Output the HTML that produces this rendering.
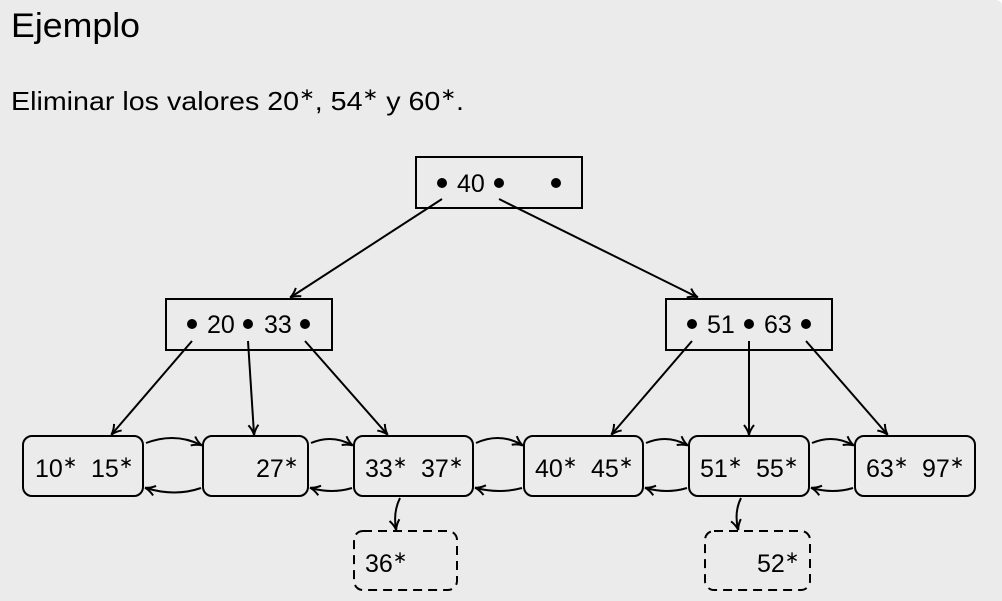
<!DOCTYPE html>
<html><head><meta charset="utf-8"><style>
html,body{margin:0;padding:0;background:#fff;}
#p{width:1002px;height:601px;background:#ebebeb;position:relative;overflow:hidden;border-radius:0 6px 0 0;font-family:"Liberation Sans",sans-serif;}
svg text{font-family:"Liberation Sans",sans-serif;}
.s{font-family:"DejaVu Sans",sans-serif;}
</style></head><body><div id="p">
<svg width="1002" height="601" viewBox="0 0 1002 601" xmlns="http://www.w3.org/2000/svg">
<defs><marker id="a" markerWidth="12" markerHeight="12" refX="10" refY="6" orient="auto" markerUnits="userSpaceOnUse"><path d="M1,1 Q6,5 11,6 Q6,7 1,11" fill="none" stroke="#000" stroke-width="2"/></marker></defs>
<text x="11" y="37" font-size="34" fill="#000" textLength="129" lengthAdjust="spacingAndGlyphs">Ejemplo</text>
<text x="11" y="110" font-size="26" fill="#000" textLength="453" lengthAdjust="spacingAndGlyphs">Eliminar los valores 20<tspan class="s" dy="-10" font-size="17">∗</tspan><tspan dy="10">, 54</tspan><tspan class="s" dy="-10" font-size="17">∗</tspan><tspan dy="10"> y 60</tspan><tspan class="s" dy="-10" font-size="17">∗</tspan><tspan dy="10">.</tspan></text>
<g fill="none" stroke="#000" stroke-width="2">
<rect x="416" y="157" width="166" height="51"/>
<rect x="166" y="299" width="166" height="51"/>
<rect x="666" y="299" width="166" height="51"/>
<rect x="23" y="436" width="120" height="60" rx="9"/>
<rect x="203" y="436" width="105" height="60" rx="9"/>
<rect x="354" y="436" width="119" height="60" rx="9"/>
<rect x="524" y="436" width="119" height="60" rx="9"/>
<rect x="689" y="436" width="120" height="60" rx="9"/>
<rect x="855" y="436" width="120" height="60" rx="9"/>
<rect x="354" y="531" width="103" height="59" rx="9" stroke-dasharray="9,6"/>
<rect x="705" y="531" width="105" height="59" rx="9" stroke-dasharray="9,6"/>
</g>
<g fill="none" stroke="#000" stroke-width="2" marker-end="url(#a)">
<line x1="442" y1="199" x2="291" y2="297"/>
<line x1="499" y1="199" x2="697" y2="297"/>
<line x1="192" y1="341" x2="112" y2="434"/>
<line x1="248" y1="341" x2="254" y2="434"/>
<line x1="305" y1="341" x2="387" y2="434"/>
<line x1="692" y1="341" x2="612" y2="434"/>
<line x1="749" y1="341" x2="749" y2="434"/>
<line x1="806" y1="341" x2="887" y2="434"/>
<path d="M146,443 Q175,432 201,445"/><path d="M201,488 Q175,497 146,488"/>
<path d="M311,443 Q332,434 352,445"/><path d="M352,488 Q332,494 311,488"/>
<path d="M476,443 Q500,432 522,445"/><path d="M522,488 Q500,494 476,488"/>
<path d="M646,443 Q667,434 687,445"/><path d="M687,488 Q667,494 646,488"/>
<path d="M812,443 Q833,434 853,445"/><path d="M853,488 Q833,494 812,488"/>
<path d="M400,498 Q393,512 396,529"/>
<path d="M741,498 Q734,512 738,529"/>
</g>
<g fill="#000">
<circle cx="442" cy="183" r="5"/><circle cx="499" cy="183" r="5"/><circle cx="556" cy="183" r="5"/>
<circle cx="192" cy="324" r="5"/><circle cx="248" cy="324" r="5"/><circle cx="305" cy="324" r="5"/>
<circle cx="692" cy="324" r="5"/><circle cx="749" cy="324" r="5"/><circle cx="806" cy="324" r="5"/>
</g>
<g font-size="25" fill="#000">
<text x="457" y="192">40</text>
<text x="207" y="333">20</text><text x="264" y="333">33</text>
<text x="707" y="333">51</text><text x="764" y="333">63</text>
<text x="35" y="477">10<tspan class="s" dy="-9" font-size="17">∗</tspan></text><text x="91" y="477">15<tspan class="s" dy="-9" font-size="17">∗</tspan></text>
<text x="256" y="477">27<tspan class="s" dy="-9" font-size="17">∗</tspan></text>
<text x="365" y="477">33<tspan class="s" dy="-9" font-size="17">∗</tspan></text><text x="421" y="477">37<tspan class="s" dy="-9" font-size="17">∗</tspan></text>
<text x="535" y="477">40<tspan class="s" dy="-9" font-size="17">∗</tspan></text><text x="591" y="477">45<tspan class="s" dy="-9" font-size="17">∗</tspan></text>
<text x="700" y="477">51<tspan class="s" dy="-9" font-size="17">∗</tspan></text><text x="756" y="477">55<tspan class="s" dy="-9" font-size="17">∗</tspan></text>
<text x="866" y="477">63<tspan class="s" dy="-9" font-size="17">∗</tspan></text><text x="922" y="477">97<tspan class="s" dy="-9" font-size="17">∗</tspan></text>
<text x="365" y="572">36<tspan class="s" dy="-9" font-size="17">∗</tspan></text>
<text x="757" y="572">52<tspan class="s" dy="-9" font-size="17">∗</tspan></text>
</g>
</svg></div></body></html>
